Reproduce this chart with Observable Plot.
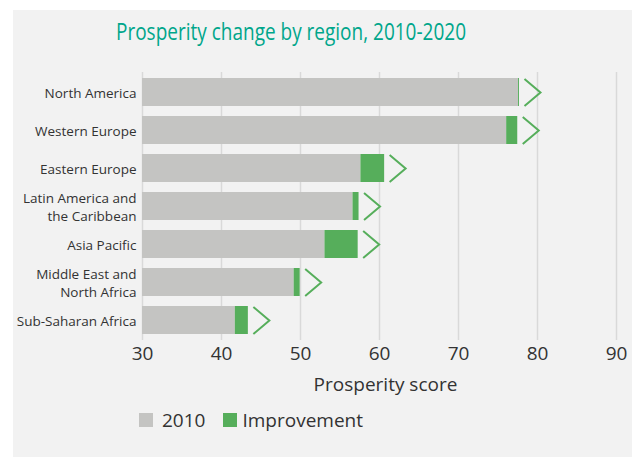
<!DOCTYPE html>
<html>
<head>
<meta charset="utf-8">
<script src="https://cdn.jsdelivr.net/npm/d3@7"></script>
<script src="https://cdn.jsdelivr.net/npm/@observablehq/plot@0.6"></script>
<style>
  html, body { margin: 0; padding: 0; background: #ffffff; }
  body { width: 632px; height: 457px; position: relative; overflow: hidden; font-family: "Open Sans", sans-serif; }
  #panel { position: absolute; left: 13px; top: 10px; width: 619px; height: 447px; background: #f2f2f2; }
  #title { position: absolute; left: 0; top: 0; }
  #chart { position: absolute; left: 0; top: 45px; }
  #legend { position: absolute; left: 126px; top: 396px; height: 28px; display: flex; align-items: center; font-size: 19px; color: #333; }
  .sw { width: 14px; height: 14px; display: inline-block; }
</style>
</head>
<body>
<div id="panel">
  <svg id="title" width="619" height="45">
    <text x="103" y="30" fill="#00a68b" font-family="Open Sans" font-size="23" textLength="350" lengthAdjust="spacingAndGlyphs">Prosperity change by region, 2010-2020</text>
  </svg>
  <div id="chart"></div>
  <div id="legend"></div>
</div>
<script>
const regions = ["North America", "Western Europe", "Eastern Europe", "Latin America and the Caribbean", "Asia Pacific", "Middle East and North Africa", "Sub-Saharan Africa"];
const regionLabels = ["North America", "Western Europe", "Eastern Europe", "Latin America and\nthe Caribbean", "Asia Pacific", "Middle East and\nNorth Africa", "Sub-Saharan Africa"];
const score2010 = [77.6, 76.1, 57.65, 56.65, 53.1, 49.2, 41.75];
const improvement = [0.12, 1.4, 3.0, 0.76, 4.2, 0.76, 1.65];
const xTicks = [30, 40, 50, 60, 70, 80, 90];
const seriesNames = ["2010", "Improvement"];
const colors = ["#c4c4c2", "#56ae5b"];

const data = regions.map((r, i) => ({
  region: r,
  label: regionLabels[i],
  base: score2010[i],
  imp: improvement[i],
  total: score2010[i] + improvement[i]
}));

const chevron = {
  draw(context) {
    context.moveTo(-8, -13.5);
    context.lineTo(8, 0);
    context.lineTo(-8, 13.5);
  }
};

const chart = Plot.plot({
  width: 619,
  height: 345,
  marginLeft: 129,
  marginRight: 16,
  marginTop: 17,
  marginBottom: 60,
  style: { background: "transparent", fontFamily: "Open Sans", color: "#333", overflow: "visible" },
  x: { domain: [30, 90] },
  y: { domain: regions, paddingInner: 0.27, paddingOuter: 0.135 },
  marks: [
    Plot.gridX(xTicks, { stroke: "#d9d9d9", strokeOpacity: 1, strokeWidth: 1.5 }),
    Plot.barX(data, { y: "region", x1: 30, x2: "base", fill: colors[0] }),
    Plot.barX(data, { y: "region", x1: "base", x2: "total", fill: colors[1] }),
    Plot.dot(data, { y: "region", x: "total", dx: 13, symbol: chevron, fill: "none", stroke: colors[1], strokeWidth: 2 }),
    Plot.axisX({ ticks: xTicks, tickSize: 0, tickPadding: 6, fontSize: 19, label: null, fill: "#333" }),
    Plot.axisY({ tickSize: 0, tickPadding: 6, fontSize: 13.5, lineHeight: 1.3, label: null, fill: "#333",
      tickFormat: d => regionLabels[regions.indexOf(d)] }),
    Plot.text(["Prosperity score"], { frameAnchor: "bottom", dy: 50, dx: 6, fontSize: 19, fill: "#333", lineAnchor: "bottom" })
  ]
});
document.getElementById("chart").appendChild(chart);

const legend = document.getElementById("legend");
seriesNames.forEach((name, i) => {
  const sw = document.createElement("span");
  sw.className = "sw";
  sw.style.background = colors[i];
  sw.style.marginRight = i === 0 ? "9px" : "5px";
  const t = document.createElement("span");
  t.textContent = name;
  t.style.marginRight = i === 0 ? "18px" : "0";
  legend.appendChild(sw);
  legend.appendChild(t);
});
</script>
</body>
</html>
